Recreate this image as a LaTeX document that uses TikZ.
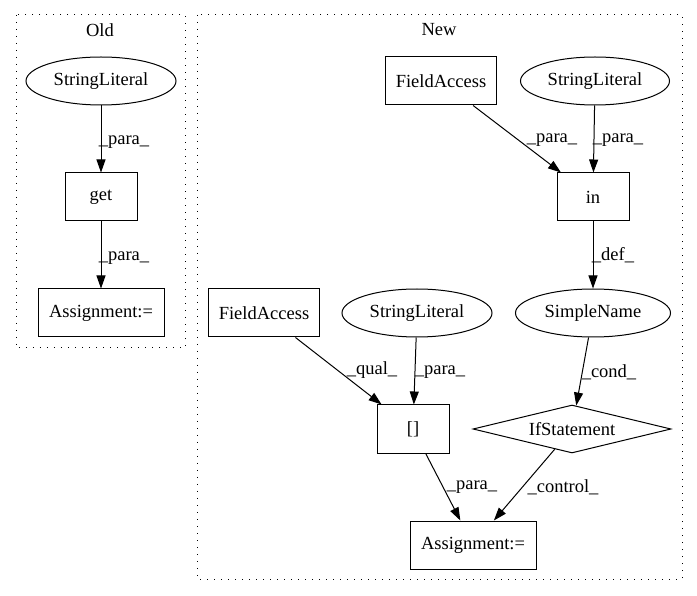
\documentclass[tikz,border=0pt]{standalone}
\usepackage{fontspec}
\setmainfont{Liberation Serif}
\usetikzlibrary{shapes.geometric,arrows.meta}
\begin{document}
\begin{tikzpicture}[x=1pt,y=-1pt,
  every node/.style={font=\fontsize{18.5}{21}\selectfont},
  boxnode/.style={draw,rectangle,inner sep=0pt,line width=1pt},
  ellnode/.style={draw,ellipse,inner sep=0pt,line width=1pt},
  diamnode/.style={draw,diamond,inner sep=0pt,aspect=4.1,minimum width=198pt,minimum height=48pt,line width=1pt},
  edge/.style={draw,line width=1pt,-{Triangle[length=13pt,width=9pt]}},
  elabel/.style={inner sep=0pt},
  cluster/.style={draw,line width=1pt,dash pattern=on 1.4pt off 5.6pt}
]
\useasboundingbox (0,0) rectangle (697,596);
% clusters
\draw[cluster] (16,15) rectangle (185,348);
\node (oldlbl) at (100,30) {Old};
\draw[cluster] (197,15) rectangle (682,579);
\node (newlbl) at (439,30) {New};

% Old
\node[ellnode,minimum width=150pt,minimum height=48pt] (osl) at (101,81) {StringLiteral};
\node[boxnode,minimum width=72pt,minimum height=48pt] (oget) at (101,197) {get};
\node[boxnode,minimum width=126pt,minimum height=48pt] (oasg) at (101,313) {Assignment:=};
\draw[edge] (osl) -- (oget);
\draw[edge] (oget) -- (oasg);
\node[elabel] (l1) at (124,142) {\_para\_};
\node[elabel] (l2) at (124,258) {\_para\_};

% New
\node[boxnode,minimum width=111pt,minimum height=48pt] (fa1) at (441,81) {FieldAccess};
\node[ellnode,minimum width=149pt,minimum height=48pt] (sl2) at (595,81) {StringLiteral};
\node[boxnode,minimum width=72pt,minimum height=48pt] (in) at (593,197) {in};
\node[ellnode,minimum width=155pt,minimum height=48pt] (sn) at (593,313) {SimpleName};
\node[boxnode,minimum width=111pt,minimum height=48pt] (fa2) at (264,313) {FieldAccess};
\node[ellnode,minimum width=150pt,minimum height=48pt] (sl3) at (417,313) {StringLiteral};
\node[boxnode,minimum width=72pt,minimum height=48pt] (br) at (413,429) {[]};
\node[diamnode] (if) at (572,429) {IfStatement};
\node[boxnode,minimum width=126pt,minimum height=48pt] (asg) at (473,545) {Assignment:=};

\draw[edge] (fa1) -- (in);
\draw[edge] (sl2) -- (in);
\draw[edge] (in) -- (sn);
\draw[edge] (fa2) -- (br);
\draw[edge] (sl3) -- (br);
\draw[edge] (sn) -- (if);
\draw[edge] (br) -- (asg);
\draw[edge] (if) -- (asg);

\node[elabel] (l3) at (552,140) {\_para\_};
\node[elabel] (l4) at (618,140) {\_para\_};
\node[elabel] (l5) at (613,255) {\_def\_};
\node[elabel] (l6) at (372,370) {\_qual\_};
\node[elabel] (l7) at (440,372) {\_para\_};
\node[elabel] (l8) at (609,372) {\_cond\_};
\node[elabel] (l9) at (472,487) {\_para\_};
\node[elabel] (l10) at (563,487) {\_control\_};
\end{tikzpicture}
\end{document}
